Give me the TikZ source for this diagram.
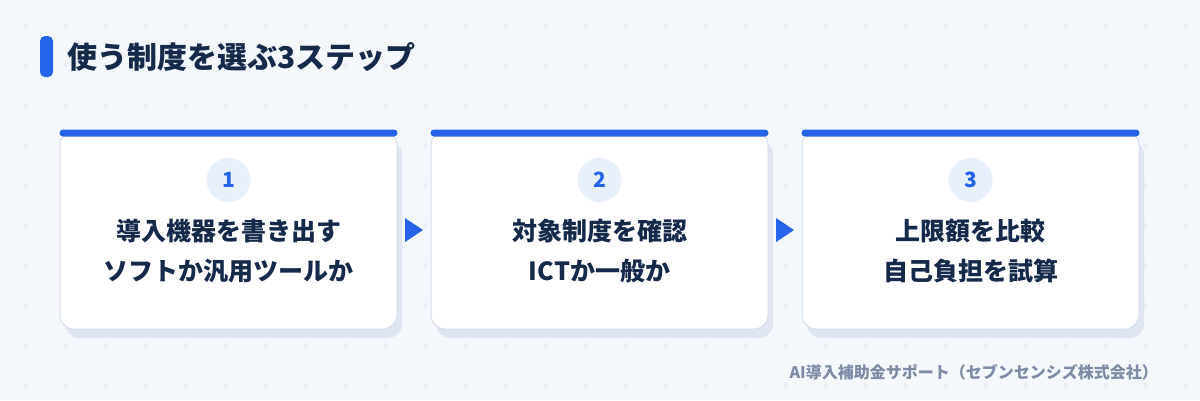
\documentclass[tikz,border=0pt]{standalone}
\usepackage{fontspec}
\setmainfont{Noto Sans CJK JP}
\usetikzlibrary{positioning,calc}

\definecolor{bgcol}{HTML}{F4F7FC}
\definecolor{gridmark}{HTML}{DCE3EF}
\definecolor{accent}{HTML}{2563EB}
\definecolor{ink}{HTML}{15294A}
\definecolor{cardline}{HTML}{D3DEEE}
\definecolor{shadowcol}{HTML}{DFE6F1}
\definecolor{dotfill}{HTML}{E8F0FC}
\definecolor{footgray}{HTML}{7D8BA6}

\tikzset{
  card/.style={draw=cardline, line width=1pt, fill=white, rounded corners=14pt,
    minimum width=337pt, minimum height=198pt, inner sep=0pt},
  numdot/.style={circle, fill=dotfill, minimum size=44pt, inner sep=0pt,
    text=accent, font=\bfseries\fontsize{21}{21}\selectfont},
  stepline/.style={text=ink, align=center, font=\bfseries\fontsize{25}{40}\selectfont},
}

\begin{document}
\begin{tikzpicture}[x=1pt,y=-1pt]
    \useasboundingbox[fill=bgcol] (0,0) rectangle (1200,400);

    % background marks
    \foreach \i in {0,...,29}
      \foreach \j in {0,...,9}
        \draw[gridmark, line width=0.8pt] (25+40*\i-2.5,25+40*\j) -- ++(5,0)
          (25+40*\i,25+40*\j-2.5) -- ++(0,5);

    % title
    \fill[accent, rounded corners=5pt] (40,36) rectangle (53,77);
    \node[anchor=west, text=ink, font=\bfseries\fontsize{30}{30}\selectfont, inner sep=0pt]
      (title) at (67,57) {使う制度を選ぶ3ステップ};

    % cards
    \foreach \k/\cx/\lineA/\lineB in {1/228.5/導入機器を書き出す/ソフトか汎用ツールか,
                                     2/599.5/対象制度を確認/ICTか一般か,
                                     3/970.5/上限額を比較/自己負担を試算}
    {
      \fill[shadowcol, rounded corners=14pt] (\cx-168.5+5,131+9) rectangle (\cx+168.5+5,329+9);
      \node[card] (card\k) at (\cx,230) {};
      \fill[accent, rounded corners=3.5pt] ([yshift=1pt]card\k.north west) rectangle ([yshift=-6pt]card\k.north east);
      \node[numdot] (num\k) at (\cx,180) {\k};
      \node[stepline] (text\k) at (\cx,251) {\lineA\\\lineB};
    }

    % arrows between cards
    \foreach \a/\b in {1/2,2/3}
    {
      \coordinate (gap\a) at ($(card\a.east)!0.5!(card\b.west)$);
      \fill[accent] ([shift={(-9,-12)}]gap\a) -- ([shift={(9,0)}]gap\a) -- ([shift={(-9,12)}]gap\a) -- cycle;
    }

    % footer
    \node[anchor=east, text=footgray, font=\bfseries\fontsize{16}{16}\selectfont, inner sep=0pt]
      (footer) at (1158,372) {AI導入補助金サポート（セブンセンシズ株式会社）};
\end{tikzpicture}
\end{document}
